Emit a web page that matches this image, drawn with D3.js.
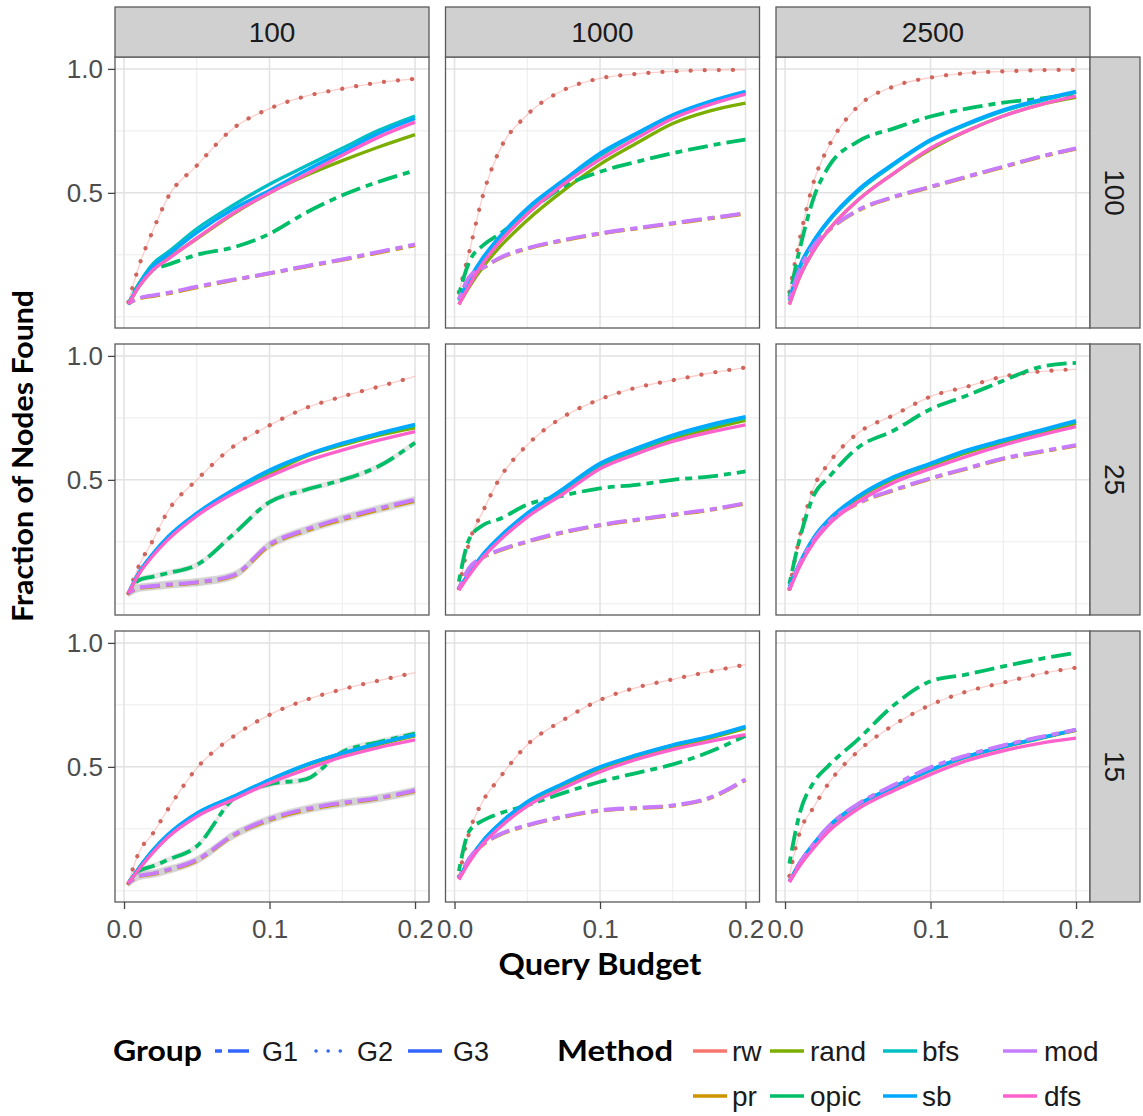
<!DOCTYPE html>
<html><head><meta charset="utf-8">
<script src="https://cdn.jsdelivr.net/npm/d3@7"></script>
<style>body{margin:0;background:#fff}</style>
</head><body>
<svg id="chart" width="1143" height="1116"></svg>
<script>
// ---------------- data ----------------
const budgets = [0.003, 0.01, 0.02, 0.03, 0.05, 0.075, 0.1, 0.125, 0.15, 0.175, 0.2];
const columnLabels = ["100", "1000", "2500"];
const rowLabels = ["100", "25", "15"];
const methods = ["rw", "pr", "rand", "opic", "bfs", "sb", "mod", "dfs"];
const methodGroups = ["G2", "G1", "G3", "G1", "G3", "G3", "G1", "G3"];
const methodColors = ["#F8766D", "#CD9600", "#7CAE00", "#00BE67", "#00BFC4", "#00A9FF", "#C77CFF", "#FF61CC"];
const groups = ["G1", "G2", "G3"];
const legendRow1 = ["rw", "rand", "bfs", "mod"];
const legendRow2 = ["pr", "opic", "sb", "dfs"];
const yTickValues = [0.5, 1.0];
const xTickValues = [0, 0.1, 0.2];
const yMinorGrid = [0, 0.25, 0.75];
const xMinorGrid = [0.05, 0.15];
// half-width of the visible grey confidence band, per panel (row, column) and method
const bandR25C100 = {pr: 0.016, mod: 0.016, opic: 0.012};
const bandR15C100 = {pr: 0.016, mod: 0.016, opic: 0.012};

// row "100"
const foundR100C100 = {
  rw:   [0.06, 0.20, 0.35, 0.48, 0.61, 0.76, 0.84, 0.89, 0.92, 0.945, 0.96],
  pr:   [0.055, 0.073, 0.084, 0.094, 0.119, 0.148, 0.175, 0.203, 0.23, 0.259, 0.288],
  rand: [0.05, 0.12, 0.19, 0.235, 0.315, 0.415, 0.50, 0.57, 0.63, 0.685, 0.735],
  opic: [0.05, 0.13, 0.19, 0.21, 0.25, 0.28, 0.335, 0.42, 0.49, 0.545, 0.59],
  bfs:  [0.05, 0.13, 0.215, 0.26, 0.355, 0.45, 0.535, 0.608, 0.68, 0.752, 0.81],
  sb:   [0.05, 0.125, 0.205, 0.25, 0.34, 0.435, 0.51, 0.59, 0.665, 0.74, 0.80],
  mod:  [0.055, 0.075, 0.087, 0.097, 0.122, 0.15, 0.176, 0.205, 0.232, 0.262, 0.292],
  dfs:  [0.05, 0.12, 0.19, 0.232, 0.317, 0.418, 0.50, 0.575, 0.652, 0.725, 0.785]
};
const foundR100C1000 = {
  rw:   [0.10, 0.26, 0.50, 0.66, 0.815, 0.915, 0.962, 0.98, 0.99, 0.995, 0.996],
  pr:   [0.07, 0.158, 0.198, 0.233, 0.275, 0.308, 0.335, 0.356, 0.376, 0.396, 0.416],
  rand: [0.05, 0.12, 0.205, 0.275, 0.39, 0.51, 0.615, 0.70, 0.78, 0.83, 0.862],
  opic: [0.09, 0.22, 0.29, 0.33, 0.42, 0.525, 0.585, 0.625, 0.66, 0.69, 0.715],
  bfs:  [0.065, 0.145, 0.235, 0.31, 0.43, 0.545, 0.65, 0.735, 0.805, 0.862, 0.905],
  sb:   [0.07, 0.15, 0.243, 0.317, 0.438, 0.552, 0.66, 0.74, 0.815, 0.868, 0.909],
  mod:  [0.07, 0.16, 0.20, 0.235, 0.277, 0.31, 0.337, 0.358, 0.378, 0.398, 0.418],
  dfs:  [0.05, 0.125, 0.22, 0.295, 0.415, 0.535, 0.635, 0.72, 0.80, 0.855, 0.898]
};
const foundR100C2500 = {
  rw:   [0.10, 0.31, 0.55, 0.687, 0.848, 0.93, 0.965, 0.983, 0.99, 0.995, 0.996],
  pr:   [0.07, 0.188, 0.288, 0.348, 0.428, 0.483, 0.523, 0.564, 0.604, 0.644, 0.678],
  rand: [0.05, 0.16, 0.27, 0.35, 0.47, 0.58, 0.675, 0.75, 0.81, 0.855, 0.885],
  opic: [0.08, 0.27, 0.485, 0.606, 0.707, 0.76, 0.808, 0.84, 0.864, 0.88, 0.90],
  bfs:  [0.065, 0.195, 0.305, 0.385, 0.505, 0.615, 0.71, 0.775, 0.83, 0.87, 0.905],
  sb:   [0.07, 0.203, 0.31, 0.39, 0.512, 0.62, 0.714, 0.78, 0.835, 0.875, 0.909],
  mod:  [0.07, 0.19, 0.29, 0.35, 0.43, 0.485, 0.525, 0.566, 0.606, 0.646, 0.68],
  dfs:  [0.05, 0.16, 0.27, 0.35, 0.47, 0.58, 0.68, 0.75, 0.81, 0.855, 0.89]
};
// row "25"
const foundR25C100 = {
  rw:   [0.043, 0.15, 0.258, 0.372, 0.50, 0.634, 0.72, 0.79, 0.836, 0.876, 0.917],
  pr:   [0.043, 0.063, 0.07, 0.076, 0.086, 0.112, 0.235, 0.295, 0.34, 0.38, 0.415],
  rand: [0.043, 0.12, 0.20, 0.262, 0.36, 0.45, 0.525, 0.595, 0.64, 0.68, 0.71],
  opic: [0.043, 0.095, 0.11, 0.124, 0.157, 0.28, 0.41, 0.46, 0.50, 0.555, 0.65],
  bfs:  [0.043, 0.122, 0.20, 0.265, 0.36, 0.455, 0.535, 0.598, 0.645, 0.685, 0.72],
  sb:   [0.043, 0.124, 0.204, 0.27, 0.366, 0.46, 0.54, 0.60, 0.648, 0.688, 0.724],
  mod:  [0.043, 0.065, 0.072, 0.078, 0.088, 0.115, 0.24, 0.30, 0.345, 0.385, 0.42],
  dfs:  [0.043, 0.118, 0.195, 0.258, 0.355, 0.445, 0.515, 0.575, 0.62, 0.66, 0.695]
};
const foundR25C1000 = {
  rw:   [0.063, 0.245, 0.379, 0.496, 0.641, 0.755, 0.825, 0.872, 0.902, 0.93, 0.953],
  pr:   [0.063, 0.142, 0.188, 0.213, 0.25, 0.288, 0.316, 0.338, 0.358, 0.378, 0.404],
  rand: [0.06, 0.12, 0.198, 0.258, 0.358, 0.455, 0.553, 0.612, 0.665, 0.705, 0.74],
  opic: [0.09, 0.26, 0.319, 0.34, 0.40, 0.437, 0.466, 0.48, 0.50, 0.513, 0.534],
  bfs:  [0.06, 0.122, 0.20, 0.262, 0.362, 0.462, 0.56, 0.62, 0.675, 0.715, 0.75],
  sb:   [0.063, 0.124, 0.204, 0.265, 0.366, 0.466, 0.567, 0.628, 0.681, 0.722, 0.755],
  mod:  [0.063, 0.144, 0.19, 0.215, 0.252, 0.29, 0.318, 0.34, 0.36, 0.38, 0.406],
  dfs:  [0.055, 0.115, 0.19, 0.25, 0.35, 0.445, 0.545, 0.605, 0.655, 0.692, 0.722]
};
const foundR25C2500 = {
  rw:   [0.06, 0.27, 0.473, 0.567, 0.688, 0.762, 0.836, 0.876, 0.917, 0.937, 0.946],
  pr:   [0.06, 0.158, 0.258, 0.328, 0.404, 0.458, 0.505, 0.545, 0.585, 0.612, 0.638],
  rand: [0.06, 0.16, 0.262, 0.332, 0.425, 0.505, 0.558, 0.61, 0.652, 0.69, 0.728],
  opic: [0.08, 0.26, 0.44, 0.51, 0.63, 0.70, 0.785, 0.84, 0.90, 0.955, 0.972],
  bfs:  [0.065, 0.162, 0.267, 0.337, 0.43, 0.51, 0.563, 0.616, 0.657, 0.696, 0.735],
  sb:   [0.07, 0.164, 0.27, 0.34, 0.433, 0.513, 0.567, 0.62, 0.661, 0.70, 0.739],
  mod:  [0.06, 0.16, 0.26, 0.33, 0.406, 0.46, 0.507, 0.547, 0.587, 0.614, 0.64],
  dfs:  [0.055, 0.15, 0.25, 0.32, 0.41, 0.49, 0.545, 0.595, 0.64, 0.68, 0.715]
};
// row "15"
const foundR15C100 = {
  rw:   [0.031, 0.152, 0.233, 0.327, 0.495, 0.622, 0.71, 0.77, 0.813, 0.848, 0.88],
  pr:   [0.031, 0.058, 0.068, 0.083, 0.122, 0.222, 0.286, 0.326, 0.352, 0.373, 0.402],
  rand: [0.031, 0.088, 0.162, 0.222, 0.308, 0.375, 0.445, 0.505, 0.55, 0.59, 0.625],
  opic: [0.031, 0.08, 0.10, 0.125, 0.18, 0.37, 0.43, 0.45, 0.56, 0.60, 0.635],
  bfs:  [0.031, 0.09, 0.165, 0.225, 0.312, 0.38, 0.448, 0.508, 0.555, 0.595, 0.63],
  sb:   [0.031, 0.09, 0.165, 0.226, 0.313, 0.38, 0.448, 0.508, 0.555, 0.595, 0.629],
  mod:  [0.031, 0.06, 0.07, 0.085, 0.125, 0.225, 0.29, 0.33, 0.355, 0.375, 0.405],
  dfs:  [0.031, 0.085, 0.155, 0.215, 0.30, 0.368, 0.435, 0.49, 0.54, 0.578, 0.609]
};
const foundR15C1000 = {
  rw:   [0.058, 0.233, 0.367, 0.448, 0.589, 0.69, 0.77, 0.82, 0.853, 0.884, 0.912],
  pr:   [0.05, 0.128, 0.188, 0.223, 0.263, 0.298, 0.323, 0.333, 0.343, 0.373, 0.447],
  rand: [0.05, 0.12, 0.20, 0.26, 0.355, 0.428, 0.493, 0.54, 0.58, 0.615, 0.655],
  opic: [0.08, 0.24, 0.285, 0.31, 0.345, 0.395, 0.44, 0.475, 0.51, 0.56, 0.625],
  bfs:  [0.05, 0.123, 0.204, 0.264, 0.358, 0.432, 0.498, 0.546, 0.587, 0.62, 0.66],
  sb:   [0.05, 0.125, 0.206, 0.266, 0.36, 0.434, 0.50, 0.548, 0.589, 0.622, 0.663],
  mod:  [0.05, 0.13, 0.19, 0.225, 0.265, 0.30, 0.325, 0.335, 0.345, 0.375, 0.45],
  dfs:  [0.045, 0.115, 0.193, 0.25, 0.342, 0.415, 0.48, 0.53, 0.57, 0.602, 0.63]
};
const foundR15C2500 = {
  rw:   [0.06, 0.233, 0.34, 0.434, 0.562, 0.67, 0.75, 0.804, 0.84, 0.875, 0.90],
  pr:   [0.038, 0.11, 0.19, 0.258, 0.348, 0.425, 0.495, 0.545, 0.585, 0.618, 0.648],
  rand: [0.038, 0.11, 0.19, 0.256, 0.345, 0.418, 0.486, 0.54, 0.58, 0.614, 0.648],
  opic: [0.11, 0.31, 0.44, 0.505, 0.61, 0.75, 0.845, 0.873, 0.905, 0.935, 0.96],
  bfs:  [0.038, 0.112, 0.192, 0.26, 0.347, 0.42, 0.488, 0.542, 0.582, 0.616, 0.65],
  sb:   [0.038, 0.112, 0.192, 0.26, 0.347, 0.42, 0.488, 0.542, 0.582, 0.616, 0.65],
  mod:  [0.038, 0.112, 0.192, 0.26, 0.35, 0.428, 0.498, 0.547, 0.587, 0.62, 0.65],
  dfs:  [0.035, 0.10, 0.175, 0.24, 0.33, 0.405, 0.47, 0.525, 0.565, 0.595, 0.616]
};
const panelData = [
  [foundR100C100, foundR100C1000, foundR100C2500],
  [foundR25C100, foundR25C1000, foundR25C2500],
  [foundR15C100, foundR15C1000, foundR15C2500]
];
const panelBands = [
  [{}, {}, {}],
  [bandR25C100, {}, {}],
  [bandR15C100, {}, {}]
];

// ---------------- layout / style ----------------
const PL = 115, PT = 57, PW = 314, PH = 271, CS = 330.5, RS = 287;
const STRIP_H = 50, STRIP_W = 50;
const TICK_FONT = "'Liberation Sans', Arial, sans-serif";
const TITLE_FONT = "Lato, 'Liberation Sans', sans-serif";
const dashFor = {G1: "7,6,20,6", G2: "0.1,14", G3: null};

const svg = d3.select("#chart");
svg.append("rect").attr("width", 1143).attr("height", 1116).attr("fill", "#fff");

const x = d3.scaleLinear().domain([-0.0062, 0.2096]).range([0, PW]);
const y = d3.scaleLinear().domain([-0.045, 1.048]).range([PH, 0]);
const line = d3.line().x((d, i) => x(budgets[i])).y(d => y(d)).curve(d3.curveMonotoneX);

svg.append("defs").append("clipPath").attr("id", "pclip")
  .append("rect").attr("x", 0).attr("y", 0).attr("width", PW).attr("height", PH);

rowLabels.forEach((rl, r) => {
  columnLabels.forEach((cl, c) => {
    const g = svg.append("g").attr("transform", `translate(${PL + c * CS},${PT + r * RS})`);
    g.append("rect").attr("width", PW).attr("height", PH).attr("fill", "#fff");
    // grid
    yMinorGrid.forEach(v => g.append("line").attr("x1", 0).attr("x2", PW).attr("y1", y(v)).attr("y2", y(v))
      .attr("stroke", "#ececec").attr("stroke-width", 1));
    xMinorGrid.forEach(v => g.append("line").attr("y1", 0).attr("y2", PH).attr("x1", x(v)).attr("x2", x(v))
      .attr("stroke", "#ececec").attr("stroke-width", 1));
    yTickValues.forEach(v => g.append("line").attr("x1", 0).attr("x2", PW).attr("y1", y(v)).attr("y2", y(v))
      .attr("stroke", "#e2e2e2").attr("stroke-width", 1.5));
    xTickValues.forEach(v => g.append("line").attr("y1", 0).attr("y2", PH).attr("x1", x(v)).attr("x2", x(v))
      .attr("stroke", "#e2e2e2").attr("stroke-width", 1.5));
    // series
    const data = panelData[r][c];
    const bands = panelBands[r][c];
    const lg = g.append("g").attr("clip-path", "url(#pclip)");
    Object.keys(bands).forEach(m => {
      const hw = bands[m];
      const area = d3.area().x((d, i) => x(budgets[i])).y0(d => y(d - hw)).y1(d => y(d + hw))
        .curve(d3.curveMonotoneX);
      lg.append("path").attr("d", area(data[m].slice(1))).attr("fill", "#9a9a9a").attr("fill-opacity", 0.28)
        .attr("transform", `translate(${x(budgets[1]) - x(budgets[0])},0)`).remove();
      lg.append("path").attr("d", area(data[m])).attr("fill", "#9a9a9a").attr("fill-opacity", 0.25);
    });
    methods.forEach((m, i) => {
      const grp = methodGroups[i];
      if (grp === "G2") {
        lg.append("path").attr("d", line(data[m])).attr("fill", "none")
          .attr("stroke", methodColors[i]).attr("stroke-opacity", 0.35).attr("stroke-width", 1.3);
        lg.append("path").attr("d", line(data[m])).attr("fill", "none")
          .attr("stroke", "#d0655d").attr("stroke-width", 4.2).attr("stroke-linecap", "round")
          .attr("stroke-dasharray", dashFor.G2);
      } else {
        const p = lg.append("path").attr("d", line(data[m])).attr("fill", "none")
          .attr("stroke", methodColors[i]).attr("stroke-width", grp === "G1" ? 3.8 : 3.4)
          .attr("stroke-linejoin", "round");
        if (dashFor[grp]) p.attr("stroke-dasharray", dashFor[grp]);
      }
    });
    g.append("rect").attr("width", PW).attr("height", PH).attr("fill", "none")
      .attr("stroke", "#5a5a5a").attr("stroke-width", 1.3);

    // axes
    if (c === 0) {
      const ax = g.append("g").call(d3.axisLeft(y).tickValues(yTickValues).tickFormat(d3.format(".1f"))
        .tickSize(7).tickPadding(5));
      ax.select(".domain").remove();
      ax.selectAll("line").attr("stroke", "#444").attr("stroke-width", 1.3);
      ax.selectAll("text").attr("font-family", TICK_FONT).attr("font-size", 26).attr("fill", "#4d4d4d");
    }
    if (r === rowLabels.length - 1) {
      const ax = g.append("g").attr("transform", `translate(0,${PH})`)
        .call(d3.axisBottom(x).tickValues(xTickValues).tickFormat(d3.format(".1f")).tickSize(7).tickPadding(11));
      ax.select(".domain").remove();
      ax.selectAll("line").attr("stroke", "#444").attr("stroke-width", 1.3);
      ax.selectAll("text").attr("font-family", TICK_FONT).attr("font-size", 26).attr("fill", "#4d4d4d");
    }
    // top strip
    if (r === 0) {
      svg.append("rect").attr("x", PL + c * CS).attr("y", PT - STRIP_H).attr("width", PW).attr("height", STRIP_H)
        .attr("fill", "#d0d0d0").attr("stroke", "#5a5a5a").attr("stroke-width", 1.3);
      svg.append("text").attr("x", PL + c * CS + PW / 2).attr("y", PT - STRIP_H / 2).attr("dy", "0.36em")
        .attr("text-anchor", "middle").attr("font-family", TICK_FONT).attr("font-size", 28).attr("fill", "#1a1a1a")
        .text(cl);
    }
    // right strip
    if (c === columnLabels.length - 1) {
      const sx = PL + c * CS + PW;
      svg.append("rect").attr("x", sx).attr("y", PT + r * RS).attr("width", STRIP_W).attr("height", PH)
        .attr("fill", "#d0d0d0").attr("stroke", "#5a5a5a").attr("stroke-width", 1.3);
      svg.append("text").attr("transform", `translate(${sx + STRIP_W / 2},${PT + r * RS + PH / 2}) rotate(90)`)
        .attr("dy", "0.36em").attr("text-anchor", "middle").attr("font-family", TICK_FONT)
        .attr("font-size", 28).attr("fill", "#1a1a1a").text(rl);
    }
  });
});

// axis titles
svg.append("text").attr("x", 600).attr("y", 975).attr("text-anchor", "middle")
  .attr("font-family", TITLE_FONT).attr("font-weight", "bold").attr("font-size", 30)
  .attr("textLength", 203).attr("lengthAdjust", "spacingAndGlyphs").attr("fill", "#000").text("Query Budget");
svg.append("text").attr("transform", "translate(33,456) rotate(-90)").attr("text-anchor", "middle")
  .attr("font-family", TITLE_FONT).attr("font-weight", "bold").attr("font-size", 29)
  .attr("textLength", 332).attr("lengthAdjust", "spacingAndGlyphs").attr("fill", "#000").text("Fraction of Nodes Found");

// legend: Group
const LROW1 = 1061, LROW2 = 1106;
svg.append("text").attr("x", 113).attr("y", LROW1).attr("font-family", TITLE_FONT).attr("font-weight", "bold")
  .attr("font-size", 29).attr("textLength", 89).attr("lengthAdjust", "spacingAndGlyphs").text("Group");
const groupKeyX = [215, 312, 408];
const groupTextX = [262, 357, 453];
groups.forEach((gname, i) => {
  const k = svg.append("line").attr("x1", groupKeyX[i]).attr("x2", groupKeyX[i] + 34)
    .attr("y1", LROW1 - 10).attr("y2", LROW1 - 10).attr("stroke", "#3366FF").attr("stroke-width", 3.5);
  if (gname === "G1") k.attr("stroke-dasharray", "7,6,21,6");
  if (gname === "G2") k.attr("stroke-dasharray", "0.1,12").attr("stroke-linecap", "round").attr("x1", groupKeyX[i] + 4);
  svg.append("text").attr("x", groupTextX[i]).attr("y", LROW1).attr("font-family", TICK_FONT)
    .attr("font-size", 27).attr("fill", "#1a1a1a").text(gname);
});

// legend: Method
svg.append("text").attr("x", 557).attr("y", LROW1).attr("font-family", TITLE_FONT).attr("font-weight", "bold")
  .attr("font-size", 29).attr("textLength", 116).attr("lengthAdjust", "spacingAndGlyphs").text("Method");
const methodKeyX = [693, 770, 883, 1003];
const methodTextX = [732, 810, 922, 1044];
[legendRow1, legendRow2].forEach((row, ri) => {
  const base = ri === 0 ? LROW1 : LROW2;
  row.forEach((m, ci) => {
    const idx = methods.indexOf(m);
    svg.append("line").attr("x1", methodKeyX[ci]).attr("x2", methodKeyX[ci] + 34)
      .attr("y1", base - 10).attr("y2", base - 10).attr("stroke", methodColors[idx]).attr("stroke-width", 3.5);
    svg.append("text").attr("x", methodTextX[ci]).attr("y", base).attr("font-family", TICK_FONT)
      .attr("font-size", 28).attr("fill", "#1a1a1a").text(m);
  });
});
</script>
</body></html>
